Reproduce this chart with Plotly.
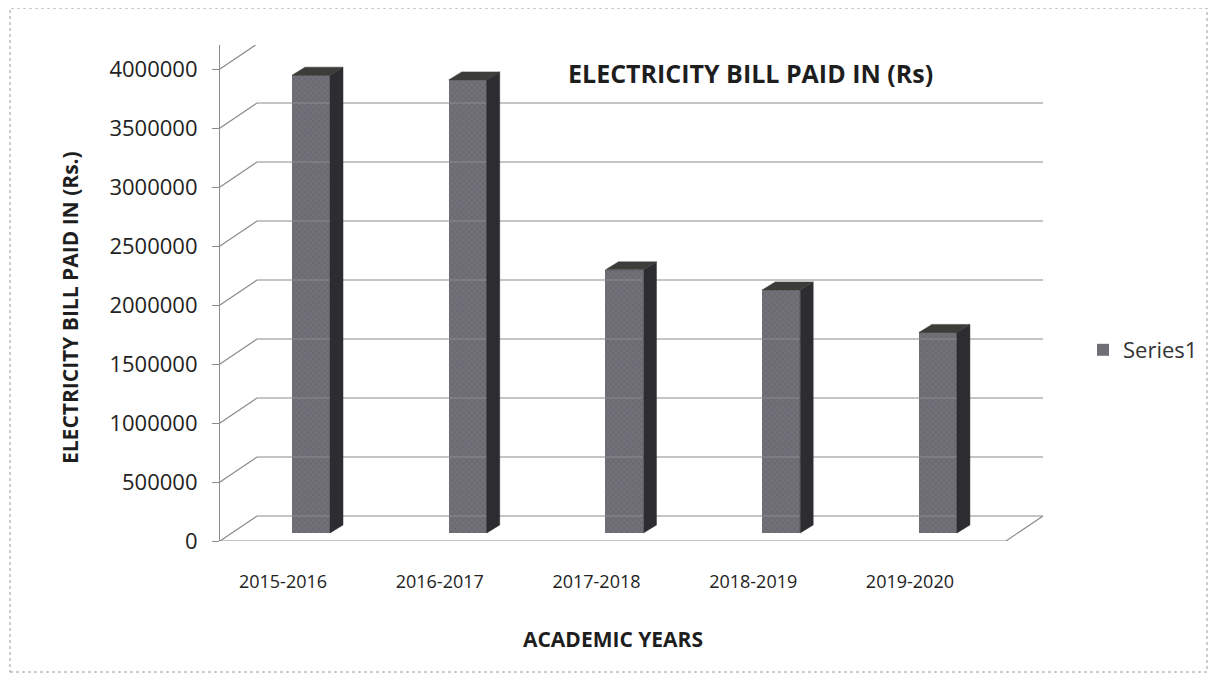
import plotly.graph_objs as go

# --- Chart data ---
years = ["2015-2016", "2016-2017", "2017-2018", "2018-2019", "2019-2020"]
bill_paid = [3880000, 3840000, 2230000, 2060000, 1700000]
y_ticks = [0, 500000, 1000000, 1500000, 2000000, 2500000, 3000000, 3500000, 4000000]

# --- Fake 3D geometry (pixel sizes converted to data units) ---
PX_Y = 472 / 4000000          # pixels per rupee on the value axis
PX_X = 156.75                 # pixels per category
X_MIN, X_MAX = -0.402, 4.849  # x range of the plot area
Y_MAX = 496 / PX_Y            # y range top (plot area is 496 px high)
WALL_DX, WALL_DY = 37 / PX_X, 25 / PX_Y      # depth of the floor / back wall
BAR_SHIFT, BAR_W = 28 / PX_X, 38 / PX_X      # bar position and width
BAR_BASE = 8 / PX_Y                          # bar sits a bit behind the front edge
BAR_DX, BAR_DY = 13 / PX_X, 8 / PX_Y         # bar depth

# plot area on the page (the page body has an 8px margin)
PLOT_L, PLOT_T, PLOT_W, PLOT_H = 220, 45, 823, 496

FONT = "Open Sans, Liberation Sans, sans-serif"
GRID = "#8c8c8c"


def px_x(px):
    """Page pixel x -> paper coordinate."""
    return (px - PLOT_L) / PLOT_W


def px_y(py):
    """Page pixel y -> paper coordinate."""
    return (PLOT_T + PLOT_H - py) / PLOT_H


def wall_traces():
    """Back-wall gridlines, the diagonal side-wall lines and the floor."""
    xs, ys = [], []
    for v in y_ticks:
        # diagonal from the front axis to the back wall, then across the wall
        xs += [X_MIN, X_MIN + WALL_DX, X_MAX, None]
        ys += [v, v + WALL_DY, v + WALL_DY, None]
    # front edge of the floor and its right-hand corner
    x_front = X_MAX - WALL_DX
    xs += [X_MIN, x_front, X_MAX, None]
    ys += [0, 0, WALL_DY, None]
    return go.Scatter(x=xs, y=ys, mode="lines", line=dict(color=GRID, width=1.2),
                      hoverinfo="skip", showlegend=False)


def bar_traces():
    """Front faces as a bar trace plus side and top faces as filled polygons."""
    centers = [i + BAR_SHIFT for i in range(len(years))]
    front = go.Bar(
        x=centers, y=bill_paid, base=BAR_BASE, width=BAR_W, name="Series1",
        marker=dict(color="#727179", line=dict(width=0),
                    pattern=dict(shape="x", fgcolor="#56555d", size=4, solidity=0.3)),
        hovertemplate="%{customdata}: %{y}<extra></extra>", customdata=years,
    )
    sx, sy, tx, ty = [], [], [], []
    for c, v in zip(centers, bill_paid):
        xl, xr = c - BAR_W / 2, c + BAR_W / 2
        top = BAR_BASE + v
        sx += [xr, xr + BAR_DX, xr + BAR_DX, xr, xr, None]
        sy += [BAR_BASE, BAR_BASE + BAR_DY, top + BAR_DY, top, BAR_BASE, None]
        tx += [xl, xl + BAR_DX, xr + BAR_DX, xr, xl, None]
        ty += [top, top + BAR_DY, top + BAR_DY, top, top, None]
    side = go.Scatter(x=sx, y=sy, mode="lines", fill="toself", fillcolor="#2c2c31",
                      line=dict(width=0.5, color="#2c2c31"), hoverinfo="skip", showlegend=False)
    top_face = go.Scatter(x=tx, y=ty, mode="lines", fill="toself", fillcolor="#3c3c38",
                          line=dict(width=0.5, color="#3c3c38"), hoverinfo="skip", showlegend=False)
    return [front, side, top_face]


def label(text, x, y, size, angle=0):
    """Bold text placed by its centre, in page pixels."""
    return dict(text=f"<b>{text}</b>", xref="paper", yref="paper", x=px_x(x), y=px_y(y),
                xanchor="center", yanchor="middle", showarrow=False, textangle=angle,
                font=dict(size=size, color="#1e1e1e"))


def create_chart():
    data = [wall_traces()] + bar_traces()

    layout = go.Layout(
        width=1209, height=676,
        margin=dict(l=PLOT_L - 8, r=1209 - (PLOT_L - 8) - PLOT_W, t=PLOT_T - 8,
                    b=676 - (PLOT_T - 8) - PLOT_H),
        paper_bgcolor="white", plot_bgcolor="white",
        font=dict(family=FONT, color="#222222"),
        annotations=[
            label("ELECTRICITY BILL PAID IN (Rs)", 750, 73, 25),
            label("ELECTRICITY BILL PAID IN (Rs.)", 70, 308, 21, angle=-90),
            label("ACADEMIC YEARS", 613, 639, 21),
        ],
        xaxis=dict(
            range=[X_MIN, X_MAX], tickvals=list(range(len(years))), ticktext=years,
            showgrid=False, zeroline=False, showline=False, ticks="",
            ticklabelstandoff=28, tickfont=dict(size=18, color="#222222"),
        ),
        yaxis=dict(
            range=[0, Y_MAX], tickvals=y_ticks, ticktext=[str(v) for v in y_ticks],
            showgrid=False, zeroline=False, showline=True, linecolor=GRID, linewidth=1.2,
            ticks="outside", ticklen=7, tickcolor=GRID, ticklabelstandoff=10,
            tickfont=dict(size=22, color="#222222"),
        ),
        legend=dict(x=px_x(1083), y=px_y(350), yanchor="middle",
                    font=dict(size=22, color="#333333"), bgcolor="rgba(0,0,0,0)"),
        shapes=[
            # thin dotted frame around the whole chart
            dict(type="rect", xref="paper", yref="paper",
                 x0=px_x(10), x1=px_x(1207), y0=px_y(672), y1=px_y(8),
                 line=dict(color="#9a9a9a", width=1, dash="dot")),
        ],
        bargap=0,
    )
    return go.Figure(data=data, layout=layout)


if __name__ == "__main__":
    fig = create_chart()
    fig.write_html("out.html")
